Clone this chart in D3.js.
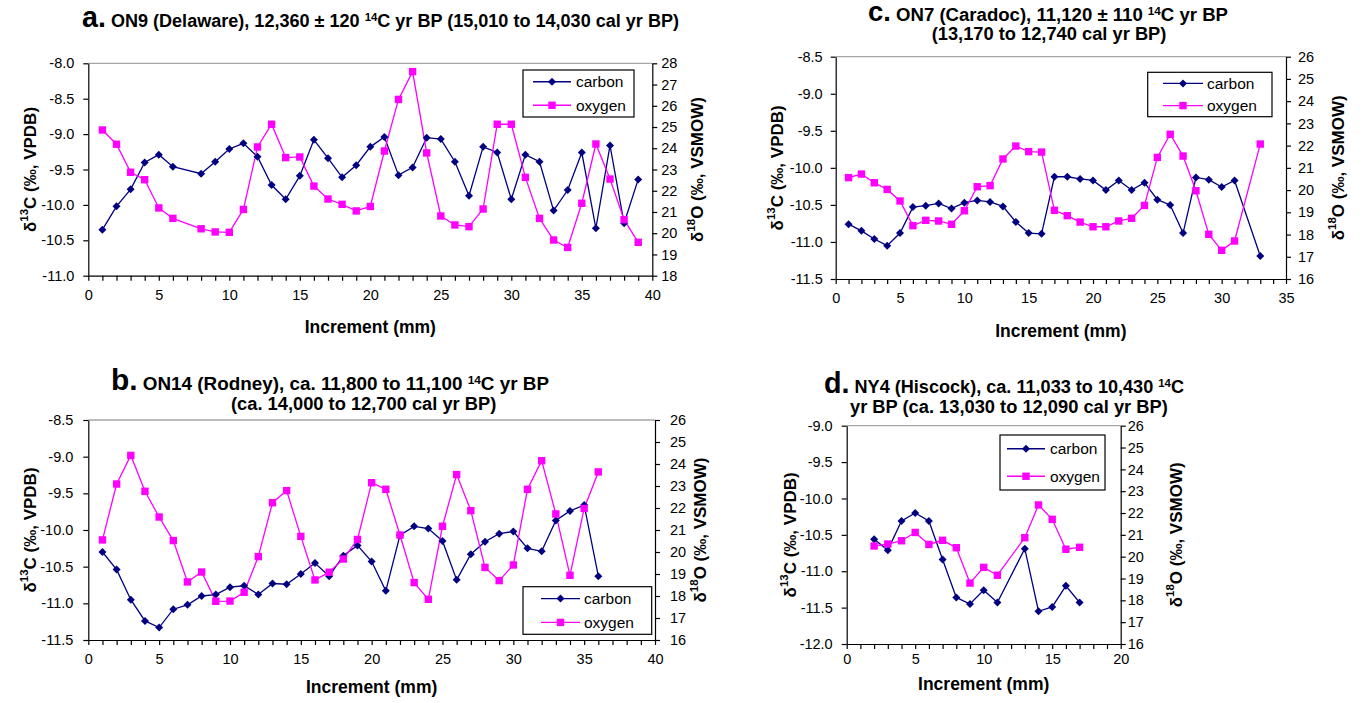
<!DOCTYPE html>
<html>
<head>
<meta charset="utf-8">
<script src="https://cdn.jsdelivr.net/npm/d3@7"></script>
<style>
  body { margin: 0; background: #fff; }
  svg { font-family: "Liberation Sans", Arial, sans-serif; }
</style>
</head>
<body>
<svg id="chart" width="1363" height="703"></svg>
<script>
// ---- data ----
const aIncrement = [1, 2, 3, 4, 5, 6, 8, 9, 10, 11, 12, 13, 14, 15, 16, 17, 18, 19, 20, 21, 22, 23, 24, 25, 26, 27, 28, 29, 30, 31, 32, 33, 34, 35, 36, 37, 38, 39];
const aCarbon = [-10.35, -10.02, -9.78, -9.40, -9.29, -9.46, -9.56, -9.39, -9.21, -9.13, -9.32, -9.72, -9.92, -9.59, -9.08, -9.34, -9.61, -9.44, -9.18, -9.04, -9.58, -9.47, -9.05, -9.07, -9.39, -9.87, -9.18, -9.26, -9.92, -9.29, -9.39, -10.08, -9.79, -9.26, -10.33, -9.16, -10.26, -9.64];
const aOxygen = [24.86, 24.19, 22.87, 22.52, 21.19, 20.70, 20.21, 20.06, 20.04, 21.12, 24.06, 25.13, 23.56, 23.59, 22.22, 21.61, 21.36, 21.05, 21.26, 23.87, 26.30, 27.61, 23.78, 20.81, 20.39, 20.31, 21.14, 25.13, 25.13, 22.63, 20.70, 19.68, 19.33, 21.41, 24.20, 22.55, 20.64, 19.57];

const cIncrement = [1, 2, 3, 4, 5, 6, 7, 8, 9, 10, 11, 12, 13, 14, 15, 16, 17, 18, 19, 20, 21, 22, 23, 24, 25, 26, 27, 28, 29, 30, 31, 33];
const cCarbon = [-10.76, -10.85, -10.96, -11.05, -10.88, -10.53, -10.51, -10.48, -10.55, -10.47, -10.44, -10.46, -10.52, -10.73, -10.88, -10.89, -10.12, -10.12, -10.15, -10.17, -10.30, -10.17, -10.30, -10.20, -10.43, -10.50, -10.88, -10.13, -10.16, -10.26, -10.17, -11.19];
const cOxygen = [20.56, 20.72, 20.33, 20.03, 19.51, 18.40, 18.64, 18.61, 18.46, 19.07, 20.15, 20.20, 21.40, 21.98, 21.73, 21.71, 19.09, 18.85, 18.56, 18.35, 18.35, 18.61, 18.73, 19.31, 21.47, 22.51, 21.53, 19.97, 18.01, 17.29, 17.71, 22.07];

const bIncrement = [1, 2, 3, 4, 5, 6, 7, 8, 9, 10, 11, 12, 13, 14, 15, 16, 17, 18, 19, 20, 21, 22, 23, 24, 25, 26, 27, 28, 29, 30, 31, 32, 33, 34, 35, 36];
const bCarbon = [-10.30, -10.54, -10.95, -11.24, -11.33, -11.08, -11.02, -10.90, -10.88, -10.78, -10.76, -10.88, -10.73, -10.74, -10.60, -10.45, -10.63, -10.35, -10.21, -10.43, -10.83, -10.07, -9.95, -9.98, -10.15, -10.68, -10.33, -10.16, -10.05, -10.02, -10.25, -10.29, -9.87, -9.74, -9.66, -10.63];
const bOxygen = [20.55, 23.09, 24.39, 22.76, 21.59, 20.52, 18.64, 19.09, 17.76, 17.77, 18.17, 19.79, 22.24, 22.79, 20.71, 18.73, 19.08, 19.68, 20.57, 23.15, 22.85, 20.77, 18.61, 17.85, 21.17, 23.52, 21.88, 19.30, 18.70, 19.41, 22.85, 24.15, 21.73, 18.94, 21.98, 23.64];

const dIncrement = [2, 3, 4, 5, 6, 7, 8, 9, 10, 11, 13, 14, 15, 16, 17];
const dCarbon = [-10.56, -10.71, -10.31, -10.20, -10.31, -10.84, -11.36, -11.45, -11.26, -11.43, -10.69, -11.55, -11.49, -11.20, -11.43];
const dOxygen = [20.49, 20.58, 20.73, 21.11, 20.56, 20.75, 20.41, 18.79, 19.51, 19.15, 20.87, 22.37, 21.71, 20.34, 20.43];

// ---- axis ticks ----
const aLeftTicks = [-11, -10.5, -10, -9.5, -9, -8.5, -8];
const aRightTicks = [18, 19, 20, 21, 22, 23, 24, 25, 26, 27, 28];
const cLeftTicks = [-11.5, -11, -10.5, -10, -9.5, -9, -8.5];
const cRightTicks = [16, 17, 18, 19, 20, 21, 22, 23, 24, 25, 26];
const bLeftTicks = [-11.5, -11, -10.5, -10, -9.5, -9, -8.5];
const bRightTicks = [16, 17, 18, 19, 20, 21, 22, 23, 24, 25, 26];
const dLeftTicks = [-12, -11.5, -11, -10.5, -10, -9.5, -9];
const dRightTicks = [16, 17, 18, 19, 20, 21, 22, 23, 24, 25, 26];
const seriesNames = ["carbon", "oxygen"];

const FONT = '"Liberation Sans", Arial, sans-serif';
const colors = { carbon: "#000080", oxygen: "#ff00ff", frame: "#a6a6a6" };

const svg = d3.select("#chart");

// text with superscript pieces
function richText(sel, parts) {
  let lift = 0;
  parts.forEach((p) => {
    const ts = sel.append("tspan").text(p.t);
    if (p.size) ts.attr("font-size", p.size);
    if (p.sup) {
      ts.attr("font-size", p.sup).attr("dy", -6 - lift);
      lift = 6;
    } else if (lift) {
      ts.attr("dy", lift);
      lift = 0;
    }
  });
  return sel;
}

const diamond = (r) => `M0,${-r}L${r},0L0,${r}L${-r},0Z`;
const square = (r) => `M${-r},${-r}H${r}V${r}H${-r}Z`;

function drawPanel(p) {
  const g = svg.append("g");

  const x = d3.scaleLinear().domain([0, p.xMax]).range([p.left, p.right]);
  const yL = d3.scaleLinear().domain(d3.extent(p.leftTicks)).range([p.bottom, p.top]);
  const yR = d3.scaleLinear().domain(d3.extent(p.rightTicks)).range([p.bottom, p.top]);

  // top frame line
  g.append("line")
    .attr("x1", p.left).attr("x2", p.right)
    .attr("y1", p.top).attr("y2", p.top)
    .attr("stroke", colors.frame).attr("stroke-width", 1.3);

  // X axis
  const xAxis = g.append("g")
    .attr("transform", `translate(0,${p.bottom})`)
    .call(
      d3.axisBottom(x)
        .tickValues(d3.range(0, p.xMax + 1))
        .tickFormat((d) => (d % 5 === 0 ? d : ""))
        .tickSize(5).tickSizeOuter(0).tickPadding(p.xPad),
    );

  // left Y axis
  const leftAxis = g.append("g")
    .attr("transform", `translate(${p.left},0)`)
    .call(
      d3.axisLeft(yL)
        .tickValues(p.leftTicks)
        .tickFormat((d) => d.toFixed(1))
        .tickSize(5).tickSizeOuter(0).tickPadding(p.lPad),
    );

  // right Y axis
  const rightAxis = g.append("g")
    .attr("transform", `translate(${p.right},0)`)
    .call(
      d3.axisRight(yR)
        .tickValues(p.rightTicks)
        .tickFormat((d) => d)
        .tickSize(5).tickSizeOuter(0).tickPadding(p.rPad),
    );

  [xAxis, leftAxis, rightAxis].forEach((ax) => {
    ax.attr("font-family", FONT).attr("font-size", 14.5);
    ax.selectAll("path, line").attr("stroke", "#000").attr("stroke-width", 1.2);
    ax.selectAll("text").attr("fill", "#000");
  });

  // axis titles
  g.append("text")
    .attr("x", (p.left + p.right) / 2)
    .attr("y", p.bottom + p.xTitleDy)
    .attr("text-anchor", "middle")
    .attr("font-weight", "bold").attr("font-size", 17.5)
    .text("Increment (mm)");

  richText(
    g.append("text")
      .attr("transform", `translate(${p.leftTitleX},${(p.top + p.bottom) / 2}) rotate(-90)`)
      .attr("text-anchor", "middle").attr("dominant-baseline", "central")
      .attr("font-weight", "bold").attr("font-size", 17),
    [{ t: "δ" }, { t: "13", sup: 11.5 }, { t: "C (‰, VPDB)" }],
  );

  richText(
    g.append("text")
      .attr("transform", `translate(${p.rightTitleX},${(p.top + p.bottom) / 2}) rotate(-90)`)
      .attr("text-anchor", "middle").attr("dominant-baseline", "central")
      .attr("font-weight", "bold").attr("font-size", 17),
    [{ t: "δ" }, { t: "18", sup: 11.5 }, { t: "O (‰, VSMOW)" }],
  );

  // panel titles: big letter, then the bold label
  p.titles.forEach((line) => {
    const t = g.append("text")
      .attr("x", line.x).attr("y", line.y)
      .attr("text-anchor", line.anchor || "start")
      .attr("font-weight", "bold").attr("font-size", 18.3);
    if (line.width) t.attr("textLength", line.width).attr("lengthAdjust", "spacingAndGlyphs");
    richText(t, line.parts);
  });

  // series
  const carbonPts = p.inc.map((v, i) => [v, p.carbon[i]]);
  const oxygenPts = p.inc.map((v, i) => [v, p.oxygen[i]]);

  const carbonLine = d3.line().x((d) => x(d[0])).y((d) => yL(d[1]));
  const oxygenLine = d3.line().x((d) => x(d[0])).y((d) => yR(d[1]));

  g.append("path").datum(carbonPts)
    .attr("fill", "none").attr("stroke", colors.carbon).attr("stroke-width", 1.3)
    .attr("d", carbonLine);
  g.append("path").datum(oxygenPts)
    .attr("fill", "none").attr("stroke", colors.oxygen).attr("stroke-width", 1.3)
    .attr("d", oxygenLine);

  g.selectAll(null).data(carbonPts).enter().append("path")
    .attr("transform", (d) => `translate(${x(d[0])},${yL(d[1])})`)
    .attr("d", diamond(4)).attr("fill", colors.carbon);
  g.selectAll(null).data(oxygenPts).enter().append("path")
    .attr("transform", (d) => `translate(${x(d[0])},${yR(d[1])})`)
    .attr("d", square(3.7)).attr("fill", colors.oxygen);

  // legend
  const lg = p.legend;
  g.append("rect")
    .attr("x", lg.x).attr("y", lg.y).attr("width", lg.w).attr("height", lg.h)
    .attr("fill", "#fff").attr("stroke", "#000").attr("stroke-width", 1.2);
  seriesNames.forEach((name, i) => {
    const ry = lg.y + lg.h * (i === 0 ? 0.25 : 0.75);
    const mx = (lg.x0 + lg.x1) / 2;
    g.append("line")
      .attr("x1", lg.x0).attr("x2", lg.x1).attr("y1", ry).attr("y2", ry)
      .attr("stroke", colors[name]).attr("stroke-width", 1.3);
    g.append("path")
      .attr("transform", `translate(${mx},${ry})`)
      .attr("d", i === 0 ? diamond(4) : square(3.7))
      .attr("fill", colors[name]);
    g.append("text")
      .attr("x", lg.tx).attr("y", ry).attr("dy", "0.35em")
      .attr("font-size", 15.5).text(name);
  });
}

const panels = [
  {
    inc: aIncrement, carbon: aCarbon, oxygen: aOxygen,
    leftTicks: aLeftTicks, rightTicks: aRightTicks, xMax: 40,
    left: 88.3, right: 652.3, top: 63.3, bottom: 275.7,
    xPad: 9, lPad: 9, rPad: 4, xTitleDy: 57, leftTitleX: 30, rightTitleX: 697,
    legend: { x: 523, y: 70, w: 111, h: 47, x0: 533, x1: 571, tx: 576 },
    titles: [
      { x: 82, y: 27, width: 597, parts: [{ t: "a.", size: 29 }, { t: " ON9 (Delaware), 12,360 ± 120 " }, { t: "14", sup: 11.5 }, { t: "C yr BP (15,010 to 14,030 cal yr BP)" }] },
    ],
  },
  {
    inc: cIncrement, carbon: cCarbon, oxygen: cOxygen,
    leftTicks: cLeftTicks, rightTicks: cRightTicks, xMax: 35,
    left: 835.7, right: 1286, top: 56.7, bottom: 279,
    xPad: 9, lPad: 8, rPad: 7, xTitleDy: 58, leftTitleX: 777, rightTitleX: 1338,
    legend: { x: 1147.7, y: 72.3, w: 124.3, h: 44.4, x0: 1163, x1: 1203, tx: 1207 },
    titles: [
      { x: 868, y: 21, width: 360, parts: [{ t: "c.", size: 27 }, { t: " ON7 (Caradoc), 11,120 ± 110 " }, { t: "14", sup: 11.5 }, { t: "C yr BP" }] },
      { x: 1049, y: 40, anchor: "middle", parts: [{ t: "(13,170 to 12,740 cal yr BP)" }] },
    ],
  },
  {
    inc: bIncrement, carbon: bCarbon, oxygen: bOxygen,
    leftTicks: bLeftTicks, rightTicks: bRightTicks, xMax: 40,
    left: 88.3, right: 655, top: 420, bottom: 640,
    xPad: 9, lPad: 10, rPad: 10, xTitleDy: 53, leftTitleX: 30, rightTitleX: 700,
    legend: { x: 523, y: 586.7, w: 128.7, h: 47.6, x0: 541, x1: 580, tx: 584 },
    titles: [
      { x: 111, y: 390, width: 438, parts: [{ t: "b.", size: 29 }, { t: " ON14 (Rodney), ca. 11,800 to 11,100 " }, { t: "14", sup: 11.5 }, { t: "C yr BP" }] },
      { x: 231, y: 410, parts: [{ t: "(ca. 14,000 to 12,700 cal yr BP)" }] },
    ],
  },
  {
    inc: dIncrement, carbon: dCarbon, oxygen: dOxygen,
    leftTicks: dLeftTicks, rightTicks: dRightTicks, xMax: 20,
    left: 846.7, right: 1120.7, top: 425.7, bottom: 644,
    xPad: 5, lPad: 9, rPad: 2, xTitleDy: 46, leftTitleX: 790, rightTitleX: 1176,
    legend: { x: 1000, y: 435, w: 105, h: 55, x0: 1007, x1: 1045, tx: 1050 },
    titles: [
      { x: 824, y: 393, width: 360, parts: [{ t: "d.", size: 29 }, { t: " NY4 (Hiscock), ca. 11,033 to 10,430 " }, { t: "14", sup: 11.5 }, { t: "C" }] },
      { x: 850, y: 413, parts: [{ t: "yr BP (ca. 13,030 to 12,090 cal yr BP)" }] },
    ],
  },
];

panels.forEach(drawPanel);
</script>
</body>
</html>
